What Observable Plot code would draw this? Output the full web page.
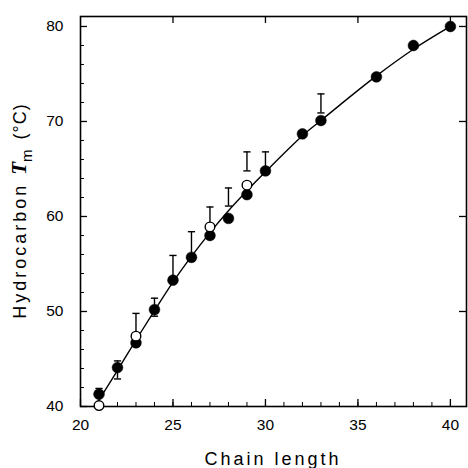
<!DOCTYPE html>
<html><head><meta charset="utf-8">
<script src="https://cdn.jsdelivr.net/npm/d3@7"></script>
<script src="https://cdn.jsdelivr.net/npm/@observablehq/plot@0.6"></script>
<style>body{margin:0;background:#fff}</style>
</head><body><div id="chart"></div>
<script>
const filledN = [21,22,23,24,25,26,27,28,29,30,32,33,36,38,40];
const filledT = [41.3,44.1,46.7,50.2,53.3,55.7,58.0,59.8,62.3,64.8,68.7,70.1,74.7,78.0,80.0];
const openN = [21,23,27,29];
const openT = [40.1,47.4,58.9,63.3];
const errN  = [21,22,23,24,25,26,27,28,29,30,33];
const errLo = [41.3,42.9,47.4,49.5,53.3,55.7,58.9,61.1,64.8,64.8,70.9];
const errHi = [41.9,44.8,49.8,51.4,55.9,58.4,61.0,63.0,66.8,66.8,72.9];
const fitN = [20.75,21,22,23,24,25,26,27,28,29,30,32,33,34,36,38,40];
const fitT = [40.0,40.7,43.8,47.0,50.1,53.1,55.8,58.3,60.6,62.7,64.7,68.5,70.1,71.7,74.8,77.6,80.0];
const xTicks = [20,25,30,35,40];
const yTicks = [40,50,60,70,80];
const xMinor = d3.range(21,41);
const yMinor = [42,44,46,48,52,54,56,58,62,64,66,68,72,74,76,78,80];

const filled = filledN.map((n,i)=>({n, t: filledT[i]}));
const open = openN.map((n,i)=>({n, t: openT[i]}));
const errs = errN.map((n,i)=>({n, lo: errLo[i], hi: errHi[i]}));
const fit = fitN.map((n,i)=>({n, t: fitT[i]}));

const W = 468, H = 468, mt = 16, mb = 62, ml = 80, mr = 2;
const iw = W - ml - mr, ih = H - mt - mb;
const cap = {draw(ctx, size){ const w = Math.sqrt(size/Math.PI); ctx.moveTo(-w,0); ctx.lineTo(w,0); }};

const plot = Plot.plot({
  width: W, height: H,
  marginTop: mt, marginBottom: mb, marginLeft: ml, marginRight: mr,
  style: {fontFamily: "'Liberation Sans', Arial, sans-serif", fontSize: "15px", color: "black", background: "white"},
  x: {domain: [20, 40.87]},
  y: {domain: [40, 81.05]},
  marks: [
    Plot.axisX(xTicks, {tickSize: 0, tickPadding: 12, fontSize: 15.5, label: null, tickFormat: d => String(d)}),
    Plot.axisY(yTicks, {tickSize: 0, tickPadding: 17, fontSize: 15.5, label: null, tickFormat: d => String(d)}),
    // bottom ticks
    Plot.ruleX(xTicks, {x: d => d, insetTop: ih - 7, stroke: "black", strokeWidth: 1.3}),
    Plot.ruleX(xMinor, {x: d => d, insetTop: ih - 4, stroke: "black", strokeWidth: 1}),
    // top ticks
    Plot.ruleX(xTicks.slice(1), {x: d => d, insetBottom: ih - 7, stroke: "black", strokeWidth: 1.3}),
    // left ticks
    Plot.ruleY(yTicks, {y: d => d, insetRight: iw - 7, stroke: "black", strokeWidth: 1.3}),
    Plot.ruleY(yMinor, {y: d => d, insetRight: iw - 4, stroke: "black", strokeWidth: 1}),
    // right ticks
    Plot.ruleY(yTicks.slice(1), {y: d => d, insetLeft: iw - 7, stroke: "black", strokeWidth: 1.3}),
    Plot.frame({stroke: "black", strokeWidth: 1.6}),
    Plot.line(fit, {x: "n", y: "t", curve: "catmull-rom", stroke: "black", strokeWidth: 1.4}),
    Plot.ruleX(errs, {x: "n", y1: "lo", y2: "hi", stroke: "black", strokeWidth: 1.4}),
    Plot.dot(errs, {x: "n", y: "hi", symbol: cap, r: 3.6, stroke: "black", strokeWidth: 1.4}),
    Plot.dot(errs, {x: "n", y: "lo", symbol: cap, r: 3.6, stroke: "black", strokeWidth: 1.4}),
    Plot.dot(filled, {x: "n", y: "t", r: 5.4, fill: "black", stroke: "black", strokeWidth: 0.5}),
    Plot.dot(open, {x: "n", y: "t", r: 4.8, fill: "white", stroke: "black", strokeWidth: 1.4})
  ]
});

const svg = d3.select(plot);
svg.append("text")
  .attr("text-anchor", "middle")
  .attr("x", ml + iw/2).attr("y", 465)
  .attr("font-family", "'Liberation Sans', Arial, sans-serif")
  .attr("font-size", 18).attr("letter-spacing", 3)
  .attr("fill", "black")
  .text("Chain length");

const yl = svg.append("text")
  .attr("text-anchor", "middle")
  .attr("transform", `translate(26,${mt + ih/2}) rotate(-90)`)
  .attr("font-family", "'Liberation Sans', Arial, sans-serif")
  .attr("font-size", 18)
  .attr("fill", "black");
yl.append("tspan").attr("letter-spacing", 3).text("Hydrocarbon ");
yl.append("tspan").attr("font-family", "'Liberation Serif', serif").attr("font-style", "italic").attr("font-weight", "bold").attr("font-size", 21).text("T");
yl.append("tspan").attr("font-size", 15).attr("dy", 6).text("m");
yl.append("tspan").attr("dy", -6).attr("letter-spacing", 1).text("\u2002(°C)");

document.getElementById("chart").append(plot);
</script>
</body></html>
